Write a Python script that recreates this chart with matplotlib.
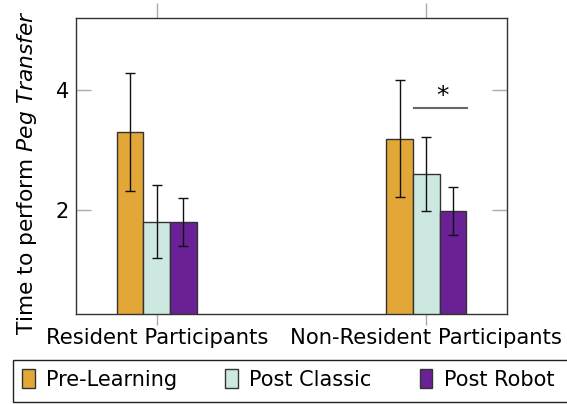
import matplotlib
matplotlib.use("Agg")
import matplotlib.pyplot as plt
from matplotlib.patches import Rectangle
import numpy as np

groups = ["Resident Participants", "Non-Resident Participants"]
series = ["Pre-Learning", "Post Classic", "Post Robot"]
means = {
    "Pre-Learning": [3.30, 3.19],
    "Post Classic": [1.81, 2.60],
    "Post Robot": [1.81, 1.98],
}
errors = {
    "Pre-Learning": [0.98, 0.97],
    "Post Classic": [0.61, 0.61],
    "Post Robot": [0.40, 0.40],
}
colors = {"Pre-Learning": "#E3A737", "Post Classic": "#CDE8E0", "Post Robot": "#6A2196"}
yticks = [2, 4]
sig_x = [0.953, 1.150]
sig_y = 3.705
sig_label = "*"

plt.rcParams['font.family'] = ['DejaVu Sans']
plt.rcParams['mathtext.fontset'] = 'dejavusans'

W, H = 567, 404
fig = plt.figure(figsize=(W/100, H/100), dpi=100)
ax = fig.add_axes([76/W, 1-314/H, 431/W, 296/H])

x = np.arange(len(groups))
w = 0.099
for i, s in enumerate(series):
    ax.bar(x + (i-1)*w, means[s], w, yerr=errors[s], color=colors[s],
           edgecolor="#333333", linewidth=1.0, capsize=3.8,
           error_kw=dict(elinewidth=1.0, ecolor="#111111", capthick=1.0),
           label=s, zorder=2)

ax.set_xlim(-0.30, 1.30)
ax.set_ylim(0.27, 5.2)
ax.set_xticks(x)
ax.set_xticklabels(groups, fontsize=15.2)
ax.set_yticks(yticks)
ax.set_yticklabels([str(t) for t in yticks], fontsize=15)
ax.tick_params(axis='x', direction='out', length=8, width=1, color='#aaaaaa',
               top=True, bottom=True, pad=2)
ax.tick_params(axis='y', direction='in', length=11, width=1, color='#aaaaaa',
               left=True, right=True, pad=5)
for sp in ax.spines.values():
    sp.set_color('#333333')
    sp.set_linewidth(1.0)
for t in ax.xaxis.get_major_ticks():
    t.tick2line.set_markersize(11)

ax.set_ylabel(r"Time to perform $\it{Peg\ Transfer}$", fontsize=15.7)
ax.yaxis.set_label_coords(-0.087, 0.478)

# significance marker
ax.plot(sig_x, [sig_y, sig_y], color="#666666", linewidth=1.5)
ax.text(np.mean(sig_x) + 0.01, sig_y + 0.2, sig_label, ha="center", va="center", fontsize=18)

leg = fig.legend(loc="upper left", bbox_to_anchor=(13/W, 1-360/H), ncol=3,
                 fontsize=15, frameon=False,
                 handlelength=0.6, handleheight=1.0, handletextpad=0.55,
                 columnspacing=2.3, borderpad=0.45, borderaxespad=0)
for p in leg.get_patches():
    p.set_edgecolor("#333333")
    p.set_linewidth(1.0)
fig.add_artist(Rectangle((13/W, 1-402/H), 1.0, 42/H, transform=fig.transFigure,
                         facecolor="none", edgecolor="#222222", linewidth=1.0,
                         clip_on=False))

fig.savefig("out.png", dpi=100)
